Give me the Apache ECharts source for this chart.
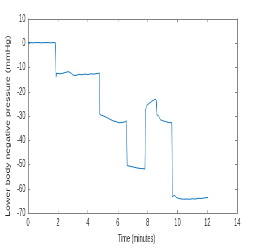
<!DOCTYPE html>
<html>
<head>
<meta charset="utf-8">
<script src="https://cdn.jsdelivr.net/npm/echarts@6/dist/echarts.min.js"></script>
<style>
html,body{margin:0;padding:0;background:#fff;overflow:hidden;}
#wrap{width:274px;height:250px;overflow:hidden;}
#chart{width:507px;height:250px;transform:scaleX(0.5404);transform-origin:0 0;}
</style>
</head>
<body>
<div id="wrap"><div id="chart"></div></div>
<script>
// Data
const times = [0, 0.3, 0.6, 0.9, 1.2, 1.5, 1.82, 1.85, 1.87, 1.9, 2.1, 2.3, 2.5, 2.7, 2.9, 3.0, 3.2, 3.4, 3.6, 3.8, 4.0, 4.2, 4.4, 4.6, 4.78, 4.8, 4.9, 5.1, 5.3, 5.5, 5.7, 5.9, 6.1, 6.3, 6.5, 6.58, 6.63, 6.7, 6.9, 7.1, 7.3, 7.5, 7.7, 7.82, 7.86, 7.95, 8.1, 8.28, 8.4, 8.5, 8.58, 8.62, 8.72, 8.77, 8.85, 9.0, 9.2, 9.4, 9.62, 9.66, 9.72, 9.8, 9.9, 10.0, 10.2, 10.4, 10.6, 10.8, 11.0, 11.2, 11.4, 11.6, 11.8, 12.05];
const pressures = [0.3, 0.2, 0.3, 0.2, 0.3, 0.2, 0.3, -7, -14, -12.3, -12.6, -12.4, -12.0, -11.7, -12.4, -13.1, -13.3, -12.8, -13.0, -12.7, -12.9, -12.6, -12.7, -12.5, -12.3, -29.4, -29.6, -30.1, -30.7, -31.4, -32.0, -32.3, -32.8, -32.6, -32.4, -31.9, -50.4, -50.5, -50.8, -51.1, -51.4, -51.6, -51.7, -51.8, -27.5, -25.5, -24.8, -23.9, -23.5, -23.0, -23.5, -29.6, -29.7, -29.3, -31.5, -31.9, -32.3, -32.6, -32.8, -63.3, -62.8, -62.6, -63.4, -63.8, -64.1, -64.3, -64.2, -64.3, -64.1, -64.2, -63.9, -64.0, -63.7, -63.6];
const xLabel = 'Time (minutes)';
const yLabel = 'Lower body negative pressure (mmHg)';
const xRange = [0, 14, 2];
const yRange = [-70, 10, 10];

const seriesData = times.map((t, i) => [t, pressures[i]]);
const font = '"Liberation Sans", Arial, sans-serif';
const lineColor = '#808080';
const textColor = '#262626';

function xAx(pos, showLabel) {
  return {
    type: 'value', position: pos, min: xRange[0], max: xRange[1], interval: xRange[2],
    axisLine: {show: true, onZero: false, lineStyle: {color: lineColor, width: 1}},
    axisTick: {show: true, inside: true, length: 3, lineStyle: {color: lineColor}},
    axisLabel: {show: showLabel, fontSize: 10.5, color: textColor, fontFamily: font, margin: 5},
    splitLine: {show: false},
    name: showLabel ? xLabel : '', nameLocation: 'middle', nameGap: 18,
    nameTextStyle: {fontSize: 10.5, color: textColor, fontFamily: font, padding: [0, 0, 0, 14]}
  };
}
function yAx(pos, showLabel) {
  return {
    type: 'value', position: pos, min: yRange[0], max: yRange[1], interval: yRange[2],
    axisLine: {show: true, onZero: false, lineStyle: {color: lineColor, width: 1}},
    axisTick: {show: true, inside: true, length: 4, lineStyle: {color: lineColor}},
    axisLabel: {show: showLabel, fontSize: 10.5, color: textColor, fontFamily: font, margin: 5},
    splitLine: {show: false},
    name: showLabel ? yLabel : '', nameLocation: 'middle', nameGap: 17, nameRotate: 90,
    nameTextStyle: {fontSize: 10.5, color: textColor, fontFamily: font, padding: [0, 20, 0, 0]}
  };
}

const chart = echarts.init(document.getElementById('chart'), null, {renderer: 'canvas'});
chart.setOption({
  animation: false,
  backgroundColor: '#ffffff',
  grid: {left: 52, right: 68, top: 19, bottom: 28, containLabel: false},
  xAxis: [xAx('bottom', true), xAx('top', false)],
  yAxis: [yAx('left', true), yAx('right', false)],
  series: [{
    type: 'line', xAxisIndex: 0, yAxisIndex: 0, data: seriesData,
    showSymbol: false, symbol: 'none',
    lineStyle: {color: '#0a72bd', width: 1},
    itemStyle: {color: '#0a72bd'}
  }]
});
</script>
</body>
</html>
